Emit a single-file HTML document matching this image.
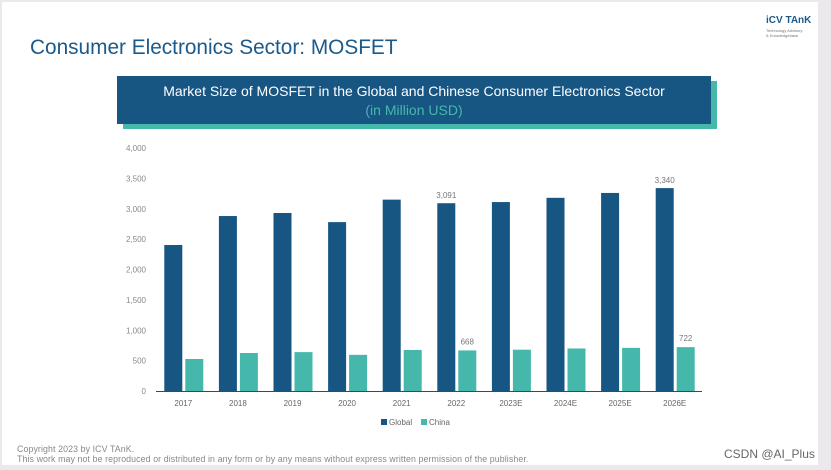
<!DOCTYPE html>
<html><head><meta charset="utf-8"><style>
body{margin:0;width:831px;height:470px;background:#ece9ec;font-family:"Liberation Sans",sans-serif;position:relative;overflow:hidden}
.panel{position:absolute;left:2px;top:2px;width:816px;height:463px;background:#fff}
</style></head><body>
<div class="panel"></div>
<div style="position:absolute;left:30px;top:36px;font-size:20.8px;color:#1b5a8a">Consumer Electronics Sector: MOSFET</div>
<div style="position:absolute;left:766px;top:15px;color:#1b5a8a;font-size:10px;font-weight:bold">iCV TAnK</div>
<div style="position:absolute;left:766px;top:28px;color:#777;font-size:4px;line-height:5px">Technology Advisory<br>&amp; Knowledgebase</div>
<div style="position:absolute;left:123px;top:81px;width:594px;height:48px;background:#45b8ab"></div>
<div style="position:absolute;left:117px;top:76px;width:594px;height:48px;background:#175583;text-align:center;color:#fff;font-size:14px;line-height:19px;padding-top:6px;box-sizing:border-box">
<span>Market Size of MOSFET in the Global and Chinese Consumer Electronics Sector</span><br>
<span style="color:#45b8ab">(in Million USD)</span></div>
<svg id="chart" width="831" height="470" style="position:absolute;left:0;top:0"></svg>
<div style="position:absolute;left:17px;top:444px;font-size:8.8px;color:#888;line-height:10px;letter-spacing:0.1px">Copyright  2023 by ICV TAnK.<br>This work may not be reproduced or distributed in any form or by any means without express written permission of the publisher.</div>
<div style="position:absolute;left:724px;top:447px;font-size:12px;color:#666">CSDN @AI_Plus</div>
<script>
const categories=["2017","2018","2019","2020","2021","2022","2023E","2024E","2025E","2026E"];
const globalValues=[2403,2880,2930,2780,3150,3091,3110,3180,3260,3340];
const chinaValues=[527,625,640,595,675,668,680,700,710,722];
const yTicks=[0,500,1000,1500,2000,2500,3000,3500,4000];
const labeledIdx=[5,9];
const NS="http://www.w3.org/2000/svg",svg=document.getElementById('chart');
const y0=391,y1=148,vmax=4000,xl=156,xr=702;
const y=v=>y0-(v/vmax)*(y0-y1);
const step=(xr-xl)/categories.length;
const xc=i=>xl+step*(i+0.5);
function mk(t,a,txt){const e=document.createElementNS(NS,t);for(const k in a)e.setAttribute(k,a[k]);if(txt!=null)e.textContent=txt;svg.appendChild(e);return e;}
yTicks.forEach(t=>{const e=mk('text',{x:146,y:y(t)+3,'text-anchor':'end','font-size':8,fill:'#888'},t.toLocaleString('en-US'));

});
categories.forEach((c,i)=>{
const g=mk('rect',{x:xc(i)-19,y:y(globalValues[i]),width:18,height:y0-y(globalValues[i]),fill:'#175583'});


const h=mk('rect',{x:xc(i)+2,y:y(chinaValues[i]),width:18,height:y0-y(chinaValues[i]),fill:'#45b8ab'});


const l=mk('text',{x:xc(i),y:406,'text-anchor':'middle','font-size':8,fill:'#666'},c);


if(labeledIdx.includes(i)){
const a=mk('text',{x:xc(i)-10,y:y(globalValues[i])-5,'text-anchor':'middle','font-size':8,fill:'#777'},globalValues[i].toLocaleString('en-US'));


const b=mk('text',{x:xc(i)+11,y:y(chinaValues[i])-6,'text-anchor':'middle','font-size':8,fill:'#777'},chinaValues[i]);

}
});
const ax=mk('line',{x1:xl,x2:xr,y1:y0+0.5,y2:y0+0.5,stroke:'#445','stroke-width':1});


const lg1=mk('rect',{x:381,y:419,width:6,height:6,fill:'#175583'});


const lt1=mk('text',{x:389,y:425,'font-size':8,fill:'#666'},'Global');


const lg2=mk('rect',{x:421,y:419,width:6,height:6,fill:'#45b8ab'});


const lt2=mk('text',{x:429,y:425,'font-size':8,fill:'#666'},'China');


</script>
</body></html>
